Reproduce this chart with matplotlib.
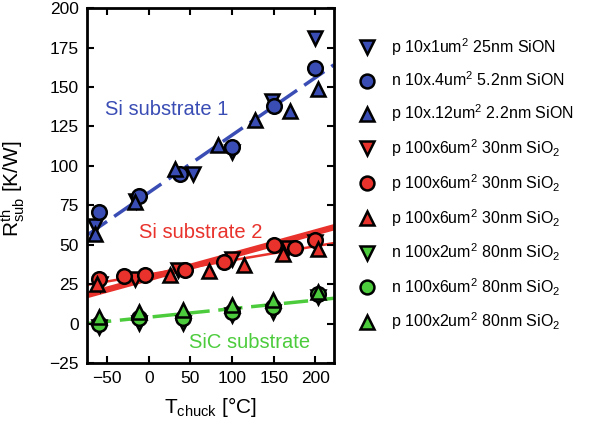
import numpy as np
import matplotlib
matplotlib.use('Agg')
import matplotlib.pyplot as plt

plt.rcParams['font.family'] = ['Liberation Sans', 'DejaVu Sans']
plt.rcParams['mathtext.fontset'] = 'custom'
plt.rcParams['mathtext.rm'] = 'Liberation Sans'
plt.rcParams['mathtext.it'] = 'Liberation Sans'
plt.rcParams['mathtext.default'] = 'regular'

# 数据
T_blue_dn = [-64, -15, 53, 100, 148, 200]
R_blue_dn = [62, 78, 95, 109, 141, 181]
T_blue_o = [-60, -12, 38, 100, 150, 200]
R_blue_o = [71, 81, 95, 112, 138, 162]
T_blue_up = [-64, -16, 32, 83, 128, 169, 203]
R_blue_up = [57, 77, 98, 113, 129, 135, 149]

T_red_dn = [-58, -16, 35, 100, 167, 200]
R_red_dn = [25, 28, 34, 41, 48, 52]
T_red_o = [-60, -30, -4, 44, 90, 150, 176, 200]
R_red_o = [28, 30, 31, 34, 39, 50, 48, 53]
T_red_up = [-62, 26, 72, 114, 161, 203]
R_red_up = [25, 31, 33, 37, 44, 47]

T_green = [-60, -12, 41, 100, 149, 203]
R_green_dn = [-2, 0.5, 0.5, 5.5, 7.4, 17]
R_green_o = [0, 3.6, 3.6, 7.4, 10.6, 19]
R_green_up = [4, 7.4, 8.7, 12, 15, 20]

# 拟合线端点
fit_T = [-74, 222]
fit_blue = [56, 164]
fit_red_thick = [18, 61]
fit_red_thin = [24.5, 51]
fit_green = [0, 16]

labels = ['p 10x1um$^2$ 25nm SiON',
          'n 10x.4um$^2$ 5.2nm SiON',
          'p 10x.12um$^2$ 2.2nm SiON',
          'p 100x6um$^2$ 30nm SiO$_2$',
          'p 100x6um$^2$ 30nm SiO$_2$',
          'p 100x6um$^2$ 30nm SiO$_2$',
          'n 100x2um$^2$ 80nm SiO$_2$',
          'n 100x6um$^2$ 80nm SiO$_2$',
          'p 100x2um$^2$ 80nm SiO$_2$']

blue = '#3a4db5'
red = '#e8322b'
green = '#4ccc3c'

fig = plt.figure(figsize=(5.96, 4.30), dpi=100)
ax = fig.add_axes([0.146, 0.156, 0.414, 0.825])

# 拟合线
ax.plot(fit_T, fit_blue, '--', color=blue, lw=2.5, dashes=(7, 2.5), zorder=1)
ax.plot(fit_T, fit_red_thick, '-', color=red, lw=4.5, zorder=1)
ax.plot(fit_T, fit_red_thin, '-', color=red, lw=1.8, zorder=1)
ax.plot(fit_T, fit_green, '--', color=green, lw=2.5, dashes=(7, 2.5), zorder=1)

series = [
    (T_blue_dn, R_blue_dn, 'v', blue),
    (T_blue_o, R_blue_o, 'o', blue),
    (T_blue_up, R_blue_up, '^', blue),
    (T_red_dn, R_red_dn, 'v', red),
    (T_red_o, R_red_o, 'o', red),
    (T_red_up, R_red_up, '^', red),
    (T_green, R_green_dn, 'v', green),
    (T_green, R_green_o, 'o', green),
    (T_green, R_green_up, '^', green),
]
handles = []
for (t, r, m, c), lab in zip(series, labels):
    h, = ax.plot(t, r, m, color=c, mec='k', mew=1.8, ms=10.5, ls='none',
                 label=lab, zorder=2)
    handles.append(h)

ax.text(-52, 136, 'Si substrate 1', color=blue, fontsize=14.5, va='center')
ax.text(-12, 58, 'Si substrate 2', color=red, fontsize=14.5, va='center')
ax.text(48, -12, 'SiC substrate', color=green, fontsize=14.5, va='center')

ax.set_xlim(-74, 222)
ax.set_ylim(-25, 200)
ax.set_xticks([-50, 0, 50, 100, 150, 200])
ax.set_yticks(np.arange(-25, 201, 25))
ax.set_xticklabels(['\u221250', '0', '50', '100', '150', '200'])
ax.set_yticklabels(['\u221225', '0', '25', '50', '75', '100', '125', '150', '175', '200'])
ax.tick_params(direction='in', top=True, right=True, length=5, width=1.5,
               labelsize=12.5, pad=6)
for s in ax.spines.values():
    s.set_linewidth(2)

ax.set_xlabel('T$_{chuck}$ [°C]', fontsize=15, labelpad=6)
ax.set_ylabel('R$_{sub}^{th}$ [K/W]', fontsize=15)
ax.yaxis.set_label_coords(-0.242, 0.49)

fig.legend(handles=handles, loc='upper left', bbox_to_anchor=(0.571, 0.95),
           frameon=False, fontsize=11.5, labelspacing=0.82, handletextpad=0.8,
           handlelength=1.5, markerscale=0.95)

plt.savefig('out.png', dpi=100)
